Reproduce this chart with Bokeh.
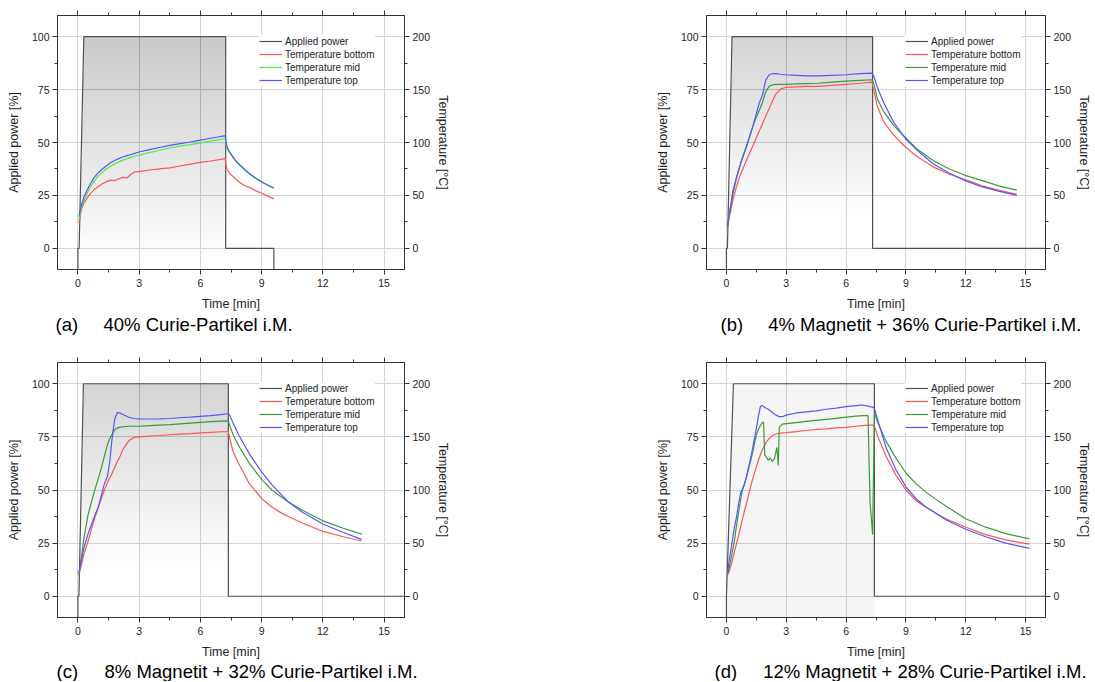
import numpy as np
from bokeh.plotting import figure
from bokeh.models import (Range1d, LinearAxis, FixedTicker, Legend, LegendItem,
                          ColumnDataSource)
from bokeh.core.properties import value
from bokeh.layouts import column, row
from bokeh.embed import file_html
from bokeh.resources import INLINE

FONT = "Liberation Sans"

# ---------------- axes / ticks ----------------
x_ticks = [0, 3, 6, 9, 12, 15]
x_minor = [1.5, 4.5, 7.5, 10.5, 13.5]
power_ticks = [0, 25, 50, 75, 100]
power_minor = [12.5, 37.5, 62.5, 87.5]
temp_ticks = [0, 50, 100, 150, 200]
temp_minor = [25, 75, 125, 175]

legend_labels = ["Applied power", "Temperature bottom", "Temperature mid", "Temperature top"]
panel_letters = ["(a)", "(b)", "(c)", "(d)"]
panel_captions = ["40% Curie-Partikel i.M.",
                  "4% Magnetit + 36% Curie-Partikel i.M.",
                  "8% Magnetit + 32% Curie-Partikel i.M.",
                  "12% Magnetit + 28% Curie-Partikel i.M."]

# ---------------- panel (a) ----------------
a_power_t = [0, 0, 0.06, 0.29, 7.24, 7.24, 9.6, 9.6]
a_power = [-20, 0, 0, 100, 100, 0, 0, -20]
a_t = [0.05, 0.1, 0.2, 0.3, 0.45, 0.6, 0.8, 1.0, 1.2, 1.4, 1.6, 1.8, 2.0, 2.2, 2.4, 2.6, 2.75,
       3.0, 3.5, 4.0, 4.5, 5.0, 5.5, 6.0, 6.5, 7.0, 7.22, 7.26, 7.32, 7.45, 7.7, 7.95, 8.2,
       8.45, 8.7, 9.0, 9.3, 9.6]
a_bottom = [24, 30, 38.5, 43, 47.5, 51.5, 55.5, 58.5, 61, 63, 64.5, 64, 65.5, 67, 66.5, 70, 72,
            72.5, 74, 75, 76, 77.8, 79.5, 81.3, 82.5, 84, 84.7, 78, 74.5, 70.5, 66, 62, 59,
            57, 54.5, 52, 49.3, 46.7]
a_mid = [27, 32, 40, 45.5, 52, 57.5, 63.5, 68.5, 72, 75, 77.7, 79.8, 81.7, 83.3, 84.7, 86, 86.8,
         88, 90.5, 92.7, 94.8, 96.5, 98, 99.7, 101.3, 103, 103.8, 98, 93.5, 89.5, 83, 78, 73.5,
         69.5, 66, 62.5, 59.3, 56.5]
a_top = [30, 35, 43, 48.5, 55, 60.5, 67, 71.5, 75, 78, 80.8, 83, 84.8, 86.3, 87.6, 88.7, 89.5,
         91, 93.3, 95.3, 97.2, 99, 100.5, 102.3, 104, 105.7, 106.3, 100, 95, 90.5, 83.5, 78.5, 74,
         70, 66.5, 63, 59.8, 57]

# ---------------- panel (b) ----------------
b_power_t = [0, 0, 0.05, 0.28, 7.33, 7.33, 16.5]
b_power = [-20, 0, 0, 100, 100, 0, 0]
b_t = [0.05, 0.15, 0.33, 0.5, 0.66, 0.83, 1.0, 1.15, 1.32, 1.48, 1.64, 1.81, 1.97, 2.14, 2.3,
       2.47, 2.71, 2.96, 3.5, 4.0, 4.6, 5.3, 6.0, 6.7, 7.3, 7.4, 7.57, 7.9, 8.39, 8.96, 9.54,
       10.36, 11.18, 11.97, 12.83, 13.65, 14.56]
b_bottom = [20, 30, 46, 58, 67.5, 75.5, 83, 89.5, 96.5, 103.5, 110.5, 118, 125, 132, 139,
            145.5, 150.5, 152, 152.5, 153, 153, 154, 155, 156, 157, 148, 134, 119, 107, 96, 87,
            77, 70, 65, 59, 55, 51]
b_mid = [20, 33, 55, 67, 77, 87, 96, 105, 115, 123, 130, 138, 148, 153, 154.5,
         155, 155, 155, 155.3, 155.7, 156, 157, 158, 158.7, 159.3, 155, 141, 129, 116, 105, 94,
         83, 75, 69, 64, 59, 55]
b_top = [21, 33, 52, 66, 77, 87, 96, 105, 115, 126, 137, 145, 159, 164, 165,
         165, 164.5, 164, 163.5, 163, 163, 163.5, 164, 165, 165.5, 162, 152, 137, 119, 104, 93,
         80, 71, 64, 58, 54, 50]

# ---------------- panel (c) ----------------
c_power_t = [0, 0, 0.05, 0.27, 7.37, 7.37, 16.5]
c_power = [-20, 0, 0, 100, 100, 0, 0]
c_t = [0.05, 0.15, 0.3, 0.5, 0.75, 1.0, 1.15, 1.3, 1.45, 1.55, 1.66, 1.75, 1.82, 1.94, 2.05,
       2.2, 2.5, 2.75, 3.0, 3.5, 4.0, 4.5, 5.0, 5.5, 6.0, 6.5, 7.0, 7.37, 7.45, 7.6, 7.9, 8.4,
       9.0, 9.5, 10.0, 10.3, 11.0, 12.0, 13.0, 13.9]
c_bottom = [20, 28, 40, 52, 69, 84, 92, 100, 107, 111, 115, 119, 122, 127, 131,
            138, 146.5, 149.5, 150, 150.7, 151.3, 152, 152.5, 153, 153.7, 154.3, 154.8, 155, 148,
            136, 124, 106, 92, 84, 78, 75, 69, 61, 56, 52]
c_mid = [20, 34, 55, 77, 95, 111, 121, 132, 143, 148, 152, 155, 157, 158.5, 159,
         159.5, 160, 160, 160, 160.5, 161, 161.5, 162.3, 163, 163.7, 164.3, 164.8, 165, 160,
         152, 141, 125, 110, 100, 93, 89, 81, 71, 64, 58.5]
c_top = [22, 32, 46, 59, 72, 84, 95, 106, 113, 125, 146, 160, 168, 173, 172.5,
         171, 168.5, 167.3, 167, 166.8, 167, 167.3, 168, 168.5, 169.3, 170, 171, 172, 170,
         163, 151, 134, 117, 105, 95, 89, 79, 68, 60, 53.5]

# ---------------- panel (d) ----------------
d_power_t = [0, 0, 0.35, 7.42, 7.42, 16.5]
d_power = [-20, 0, 100, 100, 0, 0]
d_t = [0.05, 0.15, 0.25, 0.4, 0.5, 0.62, 0.72, 0.78, 0.9, 1.0, 1.25, 1.5, 1.6, 1.7, 1.78,
       1.86, 1.92, 2.0, 2.1, 2.2, 2.3, 2.4, 2.53, 2.6, 2.65, 2.8, 3.0, 3.5, 4.0, 4.5, 5.0, 5.5,
       6.0, 6.5, 6.8, 7.1, 7.2, 7.33, 7.42, 7.6, 8.0, 8.5, 9.0, 9.5, 10.0, 10.6, 11.0, 12.0,
       13.0, 14.0, 15.2]
d_bottom = [20, 24, 30, 42, 49, 58, 66, 71, 80, 87, 106, 122, 128, 133, 137,
            140, 142, 145, 147.5, 149.5, 151, 152, 153, 153.2, 153.4, 153.7, 154, 155, 156, 157,
            157.5, 158.5, 159, 160, 160.5, 161, 161, 161, 160, 150, 132, 114, 100, 90, 84, 77,
            73, 65, 58, 53, 49]
d_mid = [20, 28, 37, 52, 66, 80, 92, 98, 106, 112, 130, 152, 157, 160.5, 163,
         164, 133, 131, 128, 130, 127, 129, 140, 123, 159, 162, 162.5, 163.5, 164.5, 165.5,
         166.5, 167.5, 168.5, 169.5, 170, 170, 89, 58, 173, 163, 146, 130, 116, 106, 98, 90,
         85, 73, 65, 59, 54]
d_top = [22, 35, 47, 65, 74, 88, 98, 100, 105, 112, 133, 158, 169, 178.5, 179.5,
         178.5, 178, 177, 176, 174.5, 173, 171.5, 170, 169.5, 169, 169, 170.5, 172.5, 173.5,
         174.5, 176, 177, 178.5, 179.5, 180, 179, 178.5, 178, 177, 165, 140, 119, 103, 92, 84,
         77, 72, 63, 56, 50, 45]

panels = [
    dict(pt=a_power_t, pv=a_power, t=a_t, bottom=a_bottom, mid=a_mid, top=a_top,
         green="#44f044", grad=(0.0, 0.012, 0.235, 1.0)),
    dict(pt=b_power_t, pv=b_power, t=b_t, bottom=b_bottom, mid=b_mid, top=b_top,
         green="#3a9a3a", grad=(0.0, 0.0, 0.16, 1.4)),
    dict(pt=c_power_t, pv=c_power, t=c_t, bottom=c_bottom, mid=c_mid, top=c_top,
         green="#3a9a3a", grad=(0.0, 0.0, 0.155, 1.4)),
    dict(pt=d_power_t, pv=d_power, t=d_t, bottom=d_bottom, mid=d_mid, top=d_top,
         green="#3a9a3a", grad=(-10.0, 0.04, 0.11, 1.0)),
]

RED = "#ff5555"
BLUE = "#5555ff"
POWER = "#505050"
TXT = "#1e1e1e"
AX = "#333333"


def gradient_source(pt, pv, y_lo, o_lo, o_top, gamma, n=50):
    pt = np.asarray(pt, float)
    pv = np.asarray(pv, float)
    top = pv.max()
    i_top = int(np.argmax(pv >= top))
    i_off = len(pv) - 1 - int(np.argmax(pv[::-1] >= top))
    t_off = pt[i_off]
    rt, rv = pt[:i_top + 1], pv[:i_top + 1]
    xs, ys, al = [], [], []
    prev = 0.0
    levels = np.linspace(y_lo, top, n + 1)[:-1]
    for k, y in enumerate(levels):
        xl = rt[0]
        for j in range(len(rv) - 1):
            if rv[j] <= y < rv[j + 1]:
                xl = rt[j] + (y - rv[j]) / (rv[j + 1] - rv[j]) * (rt[j + 1] - rt[j])
                break
        cx = [xl] + [rt[m] for m in range(len(rv)) if rv[m] > y]
        cy = [y] + [rv[m] for m in range(len(rv)) if rv[m] > y]
        xs.append(cx + [t_off, t_off])
        ys.append(cy + [top, y])
        frac = (k + 0.5) / n
        target = o_lo + (o_top - o_lo) * frac ** gamma
        a = 1 - (1 - target) / (1 - prev)
        al.append(max(a, 0.0))
        prev = target
    return ColumnDataSource(dict(xs=xs, ys=ys, alpha=al))


def style_axis(ax):
    ax.axis_line_color = AX
    ax.major_tick_line_color = AX
    ax.minor_tick_line_color = AX
    ax.major_tick_out = 5
    ax.major_tick_in = 0
    ax.minor_tick_out = 3
    ax.minor_tick_in = 0
    ax.major_label_text_font = FONT
    ax.major_label_text_font_size = "10.5px"
    ax.major_label_text_color = TXT
    ax.axis_label_text_font = FONT
    ax.axis_label_text_font_size = "12.5px"
    ax.axis_label_text_font_style = "normal"
    ax.axis_label_text_color = TXT


def make_panel(i, width, height, bl, br, bt, bb):
    d = panels[i]
    p = figure(width=width, height=height, output_backend="svg", toolbar_location=None,
               x_range=Range1d(-1.0, 16.0), y_range=Range1d(-10, 110),
               x_axis_label="Time [min]", y_axis_label="Applied power [%]")
    p.min_border_left = bl
    p.min_border_right = br
    p.min_border_top = bt
    p.min_border_bottom = bb
    p.background_fill_color = "white"
    p.border_fill_color = "white"
    p.outline_line_color = AX
    p.outline_line_width = 1
    p.extra_y_ranges = {"temp": Range1d(-20, 220)}

    p.xaxis.ticker = FixedTicker(ticks=x_ticks, minor_ticks=x_minor)
    p.yaxis.ticker = FixedTicker(ticks=power_ticks, minor_ticks=power_minor)
    style_axis(p.xaxis[0])
    style_axis(p.yaxis[0])
    p.xaxis[0].major_label_standoff = 4
    p.xaxis[0].axis_label_standoff = 7
    p.yaxis[0].major_label_standoff = 3
    p.yaxis[0].axis_label_standoff = 8

    right = LinearAxis(y_range_name="temp", axis_label="Temperature [°C]",
                       ticker=FixedTicker(ticks=temp_ticks, minor_ticks=temp_minor))
    style_axis(right)
    right.major_label_standoff = 3
    right.axis_label_standoff = 3
    p.add_layout(right, "right")

    topax = LinearAxis(ticker=FixedTicker(ticks=x_ticks, minor_ticks=x_minor))
    style_axis(topax)
    topax.major_label_overrides = {t: "" for t in x_ticks}
    topax.major_label_text_font_size = "0px"
    topax.major_label_standoff = 0
    p.add_layout(topax, "above")

    p.xgrid.ticker = FixedTicker(ticks=x_ticks)
    p.ygrid.ticker = FixedTicker(ticks=power_ticks)
    for g in (p.xgrid[0], p.ygrid[0]):
        g.grid_line_color = "#d6d6d6"
        g.grid_line_width = 1

    y_lo, o_lo, o_top, gamma = d["grad"]
    src = gradient_source(d["pt"], d["pv"], y_lo, o_lo, o_top, gamma)
    p.patches("xs", "ys", source=src, fill_color="black", fill_alpha="alpha", line_color=None)

    r_pow = p.line(d["pt"], d["pv"], line_color=POWER, line_width=1.2)
    r_bot = p.line(d["t"], d["bottom"], y_range_name="temp", line_color=RED, line_width=1.2)
    r_mid = p.line(d["t"], d["mid"], y_range_name="temp", line_color=d["green"], line_width=1.2)
    r_top = p.line(d["t"], d["top"], y_range_name="temp", line_color=BLUE, line_width=1.2)

    fw = width - bl - br
    fh = height - bt - bb
    legend = Legend(items=[LegendItem(label=legend_labels[0], renderers=[r_pow]),
                           LegendItem(label=legend_labels[1], renderers=[r_bot]),
                           LegendItem(label=legend_labels[2], renderers=[r_mid]),
                           LegendItem(label=legend_labels[3], renderers=[r_top])],
                    location=(fw - 145, fh - 71))
    legend.label_text_font = FONT
    legend.label_text_font_size = "10px"
    legend.label_text_color = TXT
    legend.glyph_width = 23
    legend.glyph_height = 12
    legend.label_height = 12
    legend.label_standoff = 3
    legend.spacing = 1
    legend.padding = 8
    legend.margin = 0
    legend.border_line_color = None
    legend.background_fill_color = "white"
    legend.background_fill_alpha = 1.0
    p.add_layout(legend)
    return p


def make_caption(i, width, height, x_letter, x_text, y_mid):
    c = figure(width=width, height=height, output_backend="svg", toolbar_location=None,
               x_range=Range1d(0, width), y_range=Range1d(0, height),
               x_axis_type=None, y_axis_type=None, min_border=0)
    c.grid.visible = False
    c.outline_line_color = None
    c.background_fill_color = "white"
    c.border_fill_color = "white"
    c.text(x=[x_letter, x_text], y=[y_mid, y_mid], text=[panel_letters[i], panel_captions[i]],
           text_font=value(FONT), text_font_size="18.5px", text_color="black",
           text_baseline="middle", text_align="left")
    return c


WL, WR = 650, 444
pa = make_panel(0, WL, 315, 57, 246, 15, 46)
pb = make_panel(1, WR, 315, 56, 44, 15, 46)
ca = make_caption(0, WL, 25, 55, 103, 16)
cb = make_caption(1, WR, 25, 70, 117.7, 16)
pc = make_panel(2, WL, 321, 57, 246, 22, 44)
pd = make_panel(3, WR, 321, 56, 44, 22, 44)
cc = make_caption(2, WL, 20, 56, 104, 10.5)
cd = make_caption(3, WR, 20, 64, 112.7, 10.5)

layout = column(row(pa, pb), row(ca, cb), row(pc, pd), row(cc, cd))

with open("out.html", "w") as f:
    f.write(file_html(layout, INLINE))
